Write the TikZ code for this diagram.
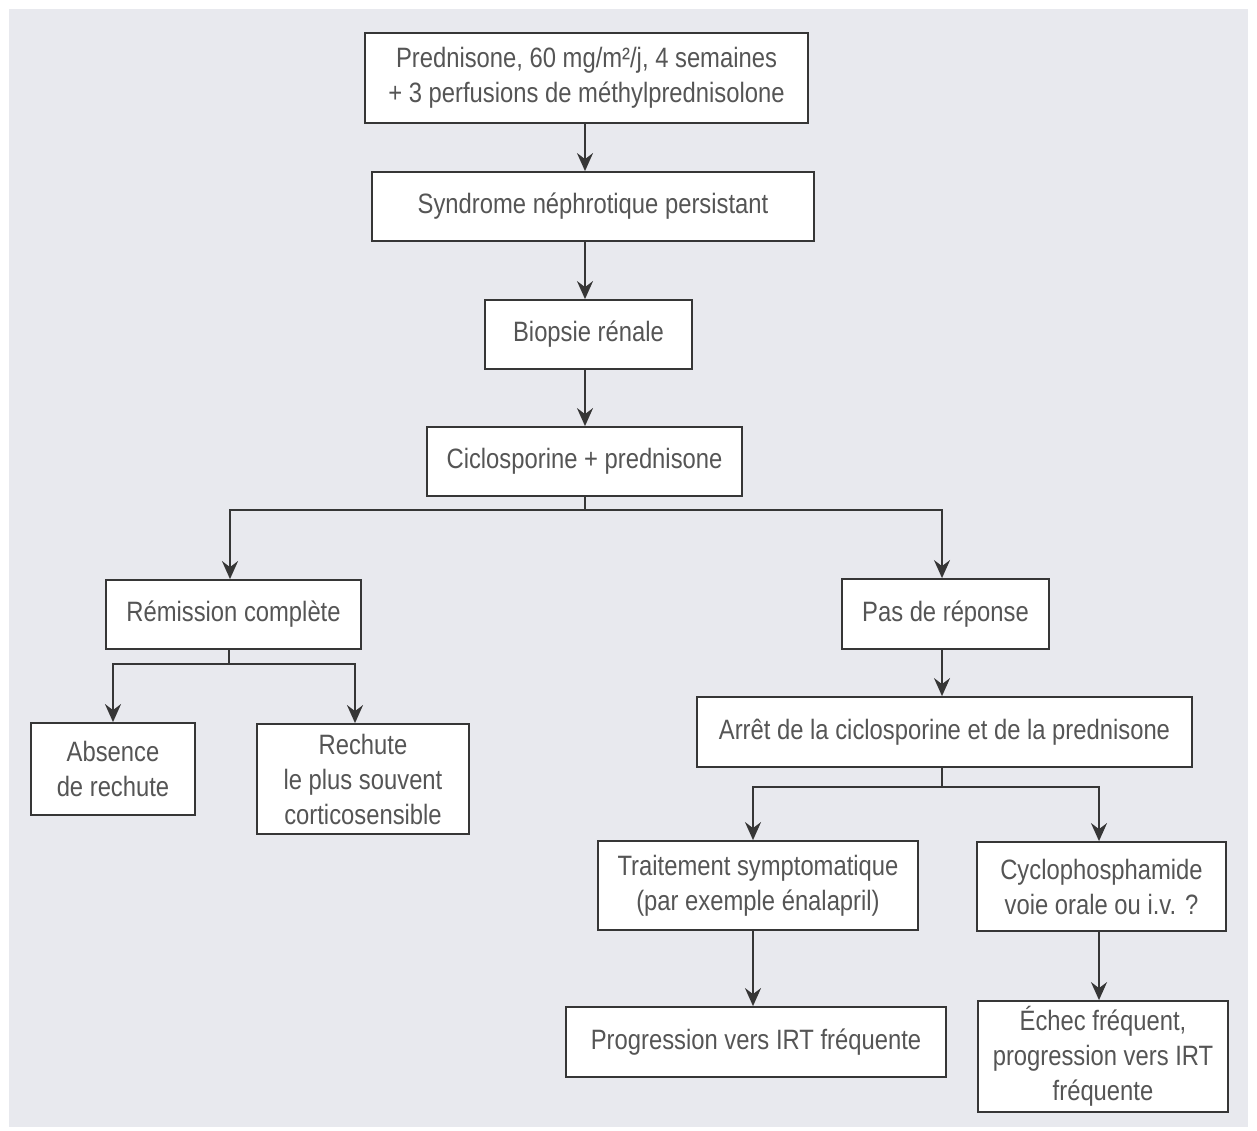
\documentclass[tikz,border=0pt]{standalone}
\usepackage{fontspec}
\setmainfont{Liberation Sans}[FakeStretch=0.85]
\usetikzlibrary{arrows.meta}
\definecolor{panelc}{HTML}{E8E9EE}
\definecolor{linec}{HTML}{363636}
\definecolor{textc}{HTML}{555555}
\tikzset{
  box/.style={draw=linec, fill=white, line width=1.8pt, inner sep=0pt, align=center, text=textc,
    font=\fontsize{28}{35}\selectfont},
  conn/.style={draw=linec, line width=2pt},
  arr/.style={conn, -{Stealth[length=18pt,width=16pt,inset=6pt]}}
}
\begin{document}
\begin{tikzpicture}[x=1pt,y=-1pt]
\useasboundingbox (0,0) rectangle (1257,1131);
\fill[white] (0,0) rectangle (1257,1131);
\fill[panelc] (9,9) rectangle (1248,1127);

\node[box, minimum width=443pt, minimum height=90pt] (p1) at (586.5,78) {Prednisone, 60 mg/m²/j, 4 semaines\\+ 3 perfusions de méthylprednisolone};
\node[box, minimum width=442pt, minimum height=69pt] (s) at (593,206.5) {Syndrome néphrotique persistant};
\node[box, minimum width=207pt, minimum height=69pt] (b) at (588.5,334.5) {Biopsie rénale};
\node[box, minimum width=315pt, minimum height=69pt] (c) at (584.5,461.5) {Ciclosporine + prednisone};
\node[box, minimum width=255pt, minimum height=69pt] (r) at (233.5,614.5) {Rémission complète};
\node[box, minimum width=207pt, minimum height=70pt] (pr) at (945.5,614) {Pas de réponse};
\node[box, minimum width=164pt, minimum height=92pt] (ab) at (113,769) {Absence\\de rechute};
\node[box, minimum width=212pt, minimum height=110pt] (re) at (363,779) {Rechute\\le plus souvent\\corticosensible};
\node[box, minimum width=495pt, minimum height=70pt] (ar) at (944.5,732) {Arrêt de la ciclosporine et de la prednisone};
\node[box, minimum width=320pt, minimum height=89pt] (t) at (758,885.5) {Traitement symptomatique\\(par exemple énalapril)};
\node[box, minimum width=249pt, minimum height=89pt] (cy) at (1101.5,886.5) {Cyclophosphamide\\voie orale ou i.v. ?};
\node[box, minimum width=380pt, minimum height=70pt] (pg) at (756,1042) {Progression vers IRT fréquente};
\node[box, minimum width=250pt, minimum height=111pt] (ec) at (1103,1056.5) {Échec fréquent,\\progression vers IRT\\fréquente};

\draw[arr] ([xshift=-1.5pt]p1.south) -- ([xshift=-1.5pt]p1.south |- s.north);
\draw[arr] ([xshift=-3.5pt]b.north |- s.south) -- ([xshift=-3.5pt]b.north);
\draw[arr] ([xshift=-3.5pt]b.south) -- ([xshift=-3.5pt]b.south |- c.north);

\coordinate (cj) at (584.5,510);
\draw[conn] (c.south) -- (cj);
\draw[arr] (cj) -| ([xshift=-3.5pt]r.north);
\draw[arr] (cj) -| ([xshift=-3.5pt]pr.north);

\coordinate (rj) at (229,664);
\draw[conn] (r.south -| rj) -- (rj);
\draw[arr] (rj) -| (ab.north);
\draw[arr] (rj) -| ([xshift=-8pt]re.north);

\draw[arr] ([xshift=-3.5pt]pr.south) -- ([xshift=-3.5pt]pr.south |- ar.north);

\coordinate (aj) at (942,787);
\draw[conn] (ar.south -| aj) -- (aj);
\draw[arr] (aj) -| ([xshift=-5pt]t.north);
\draw[arr] (aj) -| ([xshift=-2.5pt]cy.north);

\draw[arr] ([xshift=-5pt]t.south) -- ([xshift=-5pt]t.south |- pg.north);
\draw[arr] ([xshift=-2.5pt]cy.south) -- ([xshift=-2.5pt]cy.south |- ec.north);
\end{tikzpicture}
\end{document}
